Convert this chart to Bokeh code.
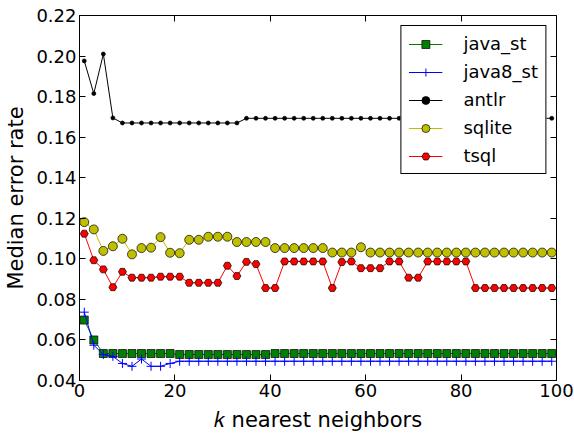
from bokeh.plotting import figure
from bokeh.models import (LinearAxis, Range1d, FixedTicker, PrintfTickFormatter,
                          CustomJSTickFormatter, Legend, LegendItem)
from bokeh.embed import file_html
from bokeh.resources import INLINE

k = list(range(1, 100, 2))

java_st = [0.0698, 0.0600] + [0.0533] * 8 + [0.0528] * 10 + [0.0533] * 30
java8_st = [0.0737, 0.0574, 0.0528, 0.0519, 0.0484, 0.0470, 0.0506, 0.0470,
            0.0470, 0.0484] + [0.0495] * 40
antlr = [0.1976, 0.1815, 0.2010, 0.1695] + [0.1670] * 13 + [0.1693] * 33
sqlite = [0.1181, 0.1145, 0.1039, 0.1062, 0.1099, 0.1022, 0.1053, 0.1055,
          0.1107, 0.1030, 0.1028, 0.1094, 0.1094, 0.1109, 0.1109, 0.1109,
          0.1083, 0.1083, 0.1083, 0.1083] + [0.1053] * 6 + \
         [0.1031, 0.1031, 0.1031, 0.1057] + [0.1031] * 20
tsql = [0.1124, 0.0993, 0.0948, 0.0860, 0.0936, 0.0907, 0.0907, 0.0907,
        0.0912, 0.0912, 0.0912, 0.0882, 0.0882, 0.0882, 0.0882, 0.0966,
        0.0915, 0.0985, 0.0974, 0.0856, 0.0856] + [0.0987] * 5 + \
       [0.0856, 0.0984, 0.0987, 0.0954, 0.0954, 0.0954, 0.0987, 0.0987,
        0.0907, 0.0907] + [0.0987] * 5 + [0.0856] * 9

x_ticks = [0, 20, 40, 60, 80, 100]
y_ticks = [0.04, 0.06, 0.08, 0.10, 0.12, 0.14, 0.16, 0.18, 0.20, 0.22]
x_title = "\U0001D458 nearest neighbors"
y_title = "Median error rate"

FONT = "DejaVu Sans"

p = figure(width=574, height=434, x_range=Range1d(0, 100),
           y_range=Range1d(0.04, 0.22), output_backend="svg",
           toolbar_location=None, min_border_left=79, min_border_right=18,
           min_border_top=15, min_border_bottom=51)
p.xgrid.visible = False
p.ygrid.visible = False
p.outline_line_color = "black"
p.outline_line_width = 1
p.outline_line_alpha = 1
p.background_fill_color = "white"
p.border_fill_color = "white"

p.xaxis.ticker = FixedTicker(ticks=x_ticks)
p.yaxis.ticker = FixedTicker(ticks=y_ticks)
p.yaxis.formatter = PrintfTickFormatter(format="%.2f")
p.xaxis.axis_label = x_title
p.yaxis.axis_label = y_title

for ax in (p.xaxis[0], p.yaxis[0]):
    ax.major_tick_in = 6
    ax.major_tick_out = 0
    ax.minor_tick_line_color = None
    ax.axis_line_color = "black"
    ax.major_tick_line_color = "black"
    ax.major_label_text_font = FONT
    ax.major_label_text_font_size = "18px"
    ax.major_label_text_color = "black"
    ax.major_label_standoff = 3
    ax.axis_label_text_font = FONT
    ax.axis_label_text_font_size = "21px"
    ax.axis_label_text_font_style = "normal"
    ax.axis_label_text_color = "black"
p.xaxis.axis_label_standoff = 8
p.yaxis.axis_label_standoff = 5

for side, ticks in (("right", y_ticks), ("above", x_ticks)):
    ax = LinearAxis(ticker=FixedTicker(ticks=ticks),
                    formatter=CustomJSTickFormatter(code="return ''"))
    ax.major_tick_in = 6
    ax.major_tick_out = 0
    ax.minor_tick_line_color = None
    ax.axis_line_color = None
    ax.major_label_standoff = 0
    p.add_layout(ax, side)

series = [
    ("java_st", java_st, "#008000", "square", 8, "black"),
    ("java8_st", java8_st, "#0000ff", "cross", 9, "#0000ff"),
    ("antlr", antlr, "black", "circle", 4, "black"),
    ("sqlite", sqlite, "#bfbf00", "circle", 9, "black"),
    ("tsql", tsql, "#ff0000", "hex", 8, "black"),
]

items = []
for name, vals, color, marker, size, edge in series:
    ln = p.line(k, vals, line_color=color, line_width=1)
    sc = p.scatter(k, vals, marker=marker, size=size, fill_color=color,
                   line_color=edge, line_width=1 if marker == "cross" else 0.7)
    items.append(LegendItem(label=name, renderers=[ln, sc]))

legend = Legend(items=items, location="top_right")
legend.border_line_color = "black"
legend.border_line_width = 1
legend.border_line_alpha = 1
legend.background_fill_color = "white"
legend.background_fill_alpha = 1
legend.label_text_font = FONT
legend.label_text_font_size = "18px"
legend.label_text_color = "black"
legend.glyph_width = 34
legend.glyph_height = 20
legend.label_height = 20
legend.spacing = 7
legend.padding = 7
legend.label_standoff = 21
legend.margin = 10
p.add_layout(legend)

open("out.html", "w").write(file_html(p, INLINE))
